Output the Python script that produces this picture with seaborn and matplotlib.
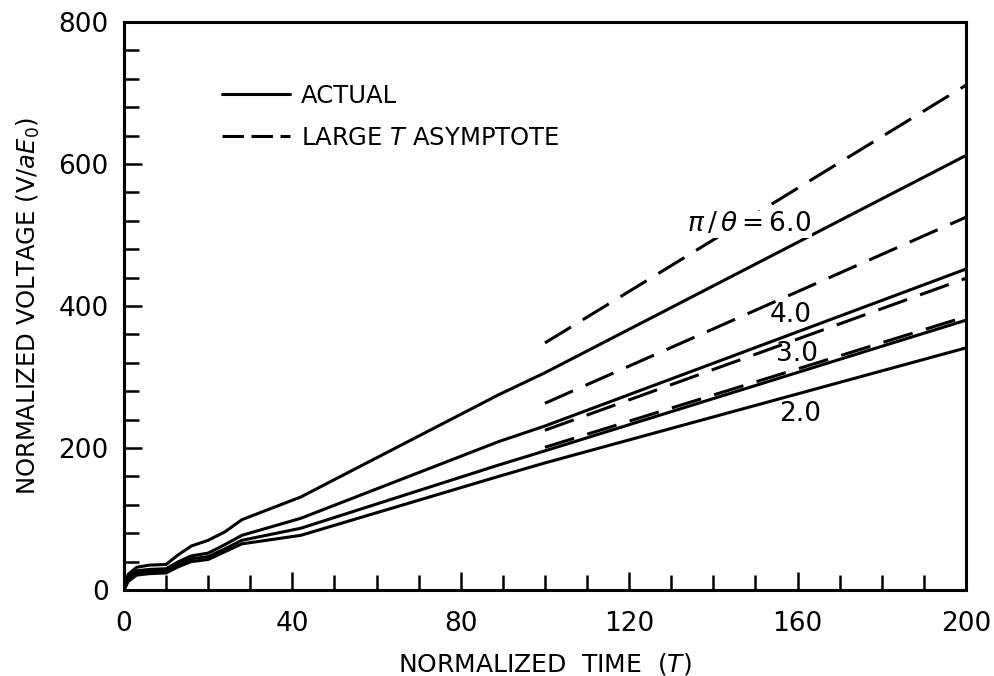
import numpy as np
import pandas as pd
import matplotlib
matplotlib.use("Agg")
import matplotlib.pyplot as plt
from matplotlib.ticker import MultipleLocator
from matplotlib.lines import Line2D
import seaborn as sns

# Normalized time sample points for the actual response curves
time_actual = [0, 1, 3, 6, 10, 13, 16, 20, 24, 28, 42, 89, 100, 200]
v_actual_60 = [0, 22, 32, 35, 36, 50, 62, 70, 82, 99, 131, 275, 306, 612]
v_actual_40 = [0, 18, 27, 29, 30, 40, 48, 52, 64, 77, 101, 209, 231, 452]
v_actual_30 = [0, 15, 24, 26, 27, 36, 44, 47, 58, 70, 87, 176, 196, 380]
v_actual_20 = [0, 12, 21, 23, 24, 33, 40, 43, 54, 65, 77, 160, 179, 341]

# Large-time asymptotes (straight lines from T=100 to T=200)
time_asym = [100, 200]
v_asym_60 = [348, 711]
v_asym_40 = [263, 525]
v_asym_30 = [225, 439]
v_asym_20 = [201, 385]

ratios = ["6.0", "4.0", "3.0", "2.0"]
ratio_labels = [r"$\pi\,/\,\theta=$6.0", "4.0", "3.0", "2.0"]
label_pos = [(148.5, 515), (158.4, 387), (159.9, 332), (160.6, 248)]

actual = pd.concat([
    pd.DataFrame({"T": time_actual, "V": v, "ratio": r})
    for r, v in zip(ratios, [v_actual_60, v_actual_40, v_actual_30, v_actual_20])
])
asym = pd.concat([
    pd.DataFrame({"T": time_asym, "V": v, "ratio": r})
    for r, v in zip(ratios, [v_asym_60, v_asym_40, v_asym_30, v_asym_20])
])

sns.set_theme(style="ticks")
plt.rcParams["font.family"] = ["DejaVu Sans"]
plt.rcParams["mathtext.fontset"] = "dejavusans"
plt.rcParams["text.color"] = "black"
plt.rcParams["axes.labelcolor"] = "black"
plt.rcParams["xtick.labelcolor"] = "black"
plt.rcParams["ytick.labelcolor"] = "black"

fig = plt.figure(figsize=(9.94, 6.76), dpi=100)
ax = fig.add_axes([0.1247, 0.1272, 0.8471, 0.8403])

lw = 2.2
sns.lineplot(data=actual, x="T", y="V", units="ratio", estimator=None,
             color="black", lw=lw, sort=False, ax=ax)
sns.lineplot(data=asym, x="T", y="V", units="ratio", estimator=None,
             color="black", lw=lw, sort=False, ax=ax, linestyle=(0, (10, 4.5)))

for i, (text, (tx, ty)) in enumerate(zip(ratio_labels, label_pos)):
    kw = {}
    if i == 0:
        kw["bbox"] = dict(facecolor="white", edgecolor="none", pad=0.5)
    ax.text(tx, ty, text, ha="center", va="center", fontsize=19,
            color="black", zorder=5, **kw)

ax.set_xlim(0, 200)
ax.set_ylim(0, 800)
ax.xaxis.set_major_locator(MultipleLocator(40))
ax.xaxis.set_minor_locator(MultipleLocator(10))
ax.yaxis.set_major_locator(MultipleLocator(200))
ax.yaxis.set_minor_locator(MultipleLocator(40))
ax.tick_params(which="both", direction="in", width=1.8, color="black",
               top=False, right=False, labelsize=19)
ax.tick_params(axis="x", which="both", pad=15)
ax.tick_params(axis="y", which="both", pad=11)
ax.tick_params(which="major", length=13)
ax.tick_params(which="minor", length=11)
for s in ax.spines.values():
    s.set_linewidth(2.2)
    s.set_color("black")

ax.set_xlabel(r"NORMALIZED  TIME  ($T$)", fontsize=18, labelpad=10)
ax.set_ylabel(r"NORMALIZED VOLTAGE (V/$aE_0$)", fontsize=17.5, labelpad=12)

handles = [
    Line2D([0], [0], color="black", lw=lw),
    Line2D([0], [0], color="black", lw=lw, linestyle=(0, (7, 2.5))),
]
ax.legend(handles, ["ACTUAL", r"LARGE $T$ ASYMPTOTE"], loc="upper left",
          bbox_to_anchor=(0.09, 0.93), frameon=False, fontsize=17.5,
          handlelength=2.8, handletextpad=0.45, labelspacing=0.75)

fig.savefig("out.png", dpi=100, facecolor="white")
